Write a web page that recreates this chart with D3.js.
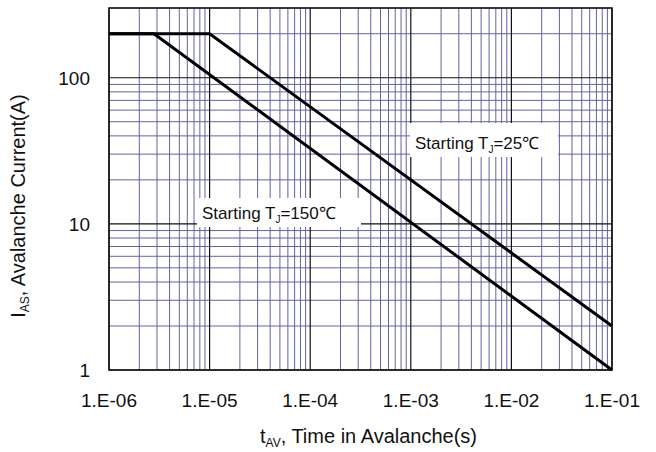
<!DOCTYPE html>
<html>
<head>
<meta charset="utf-8">
<script src="https://cdn.jsdelivr.net/npm/d3@7"></script>
<style>
  body { margin: 0; background: #fff; }
  text { font-family: "Liberation Sans", Arial, sans-serif; fill: #111; }
</style>
</head>
<body>
<div id="chart"></div>
<script>
// 1: DATA
const xTicks = [1e-6, 1e-5, 1e-4, 1e-3, 1e-2, 1e-1];
const xTickLabels = ["1.E-06", "1.E-05", "1.E-04", "1.E-03", "1.E-02", "1.E-01"];
const yTicks = [1, 10, 100];
const yTickLabels = ["1", "10", "100"];

// Starting Tj = 25C
const t25 = [1e-6, 1e-5, 1e-1];
const i25 = [200, 200, 2];
// Starting Tj = 150C
const t150 = [1e-6, 2.8e-6, 1e-1];
const i150 = [200, 200, 1];

// 2: GLOBAL SIZES
const W = 656, H = 452;
const margin = { top: 8, right: 44, bottom: 82, left: 109 };
const width = W - margin.left - margin.right;
const height = H - margin.top - margin.bottom;

const svg = d3.select("#chart").append("svg")
    .attr("width", W)
    .attr("height", H);
const g = svg.append("g")
    .attr("transform", `translate(${margin.left},${margin.top})`);

// 3: SCALES
const xScale = d3.scaleLog().domain([1e-6, 1e-1]).range([0, width]);
const yScale = d3.scaleLog().domain([1, 300]).range([height, 0]);

// 4: GRID
// minor grid lines 2..9 inside each decade
const xMinor = [];
xTicks.slice(0, -1).forEach(d => { for (let k = 2; k <= 9; k++) xMinor.push(d * k); });
const yMinor = [];
yTicks.forEach(d => { for (let k = 2; k <= 9; k++) if (d * k <= 300) yMinor.push(d * k); });

const gridColor = "#6262a2";
g.selectAll(".xminor").data(xMinor).enter().append("line")
    .attr("x1", d => xScale(d)).attr("x2", d => xScale(d))
    .attr("y1", 0).attr("y2", height)
    .attr("stroke", gridColor).attr("stroke-width", 1);
g.selectAll(".yminor").data(yMinor).enter().append("line")
    .attr("y1", d => yScale(d)).attr("y2", d => yScale(d))
    .attr("x1", 0).attr("x2", width)
    .attr("stroke", gridColor).attr("stroke-width", 1);

// decade lines
g.selectAll(".xmajor").data(xTicks).enter().append("line")
    .attr("x1", d => xScale(d)).attr("x2", d => xScale(d))
    .attr("y1", 0).attr("y2", height)
    .attr("stroke", "#111").attr("stroke-width", 1.2);
g.selectAll(".ymajor").data(yTicks).enter().append("line")
    .attr("y1", d => yScale(d)).attr("y2", d => yScale(d))
    .attr("x1", 0).attr("x2", width)
    .attr("stroke", "#111").attr("stroke-width", 1.2);

// frame
g.append("rect")
    .attr("width", width).attr("height", height)
    .attr("fill", "none").attr("stroke", "#111").attr("stroke-width", 1.5);

// 5: LABEL BOXES (white background under the curve labels)
function label(x, y, tj, boxW, boxH) {
    g.append("rect")
        .attr("x", x - 5).attr("y", y - boxH + 8)
        .attr("width", boxW).attr("height", boxH)
        .attr("fill", "#fff");
    const t = g.append("text")
        .attr("x", x).attr("y", y)
        .style("font-size", "17px");
    t.append("tspan").text("Starting T");
    t.append("tspan").attr("dy", 4).style("font-size", "10px").text("J");
    t.append("tspan").attr("dy", -4).text("=" + tj + "\u2103");
}

// 6: CURVES
const line = d3.line()
    .x(d => xScale(d[0]))
    .y(d => yScale(d[1]));

label(306, 141, 25, 148, 34);
label(93, 211, 150, 164, 29);

[[t25, i25], [t150, i150]].forEach(([ts, is]) => {
    g.append("path")
        .datum(ts.map((t, i) => [t, is[i]]))
        .attr("d", line)
        .attr("fill", "none")
        .attr("stroke", "#000")
        .attr("stroke-width", 3);
});

// 7: AXES LABELS
g.selectAll(".xlab").data(xTicks).enter().append("text")
    .attr("x", d => xScale(d))
    .attr("y", height + 37)
    .attr("text-anchor", "middle")
    .style("font-size", "19px")
    .text((d, i) => xTickLabels[i]);

g.selectAll(".ylab").data(yTicks).enter().append("text")
    .attr("x", -19)
    .attr("y", d => yScale(d) + 7)
    .attr("text-anchor", "end")
    .style("font-size", "19px")
    .text((d, i) => yTickLabels[i]);

// x title
const xt = g.append("text")
    .attr("x", width / 2 + 8)
    .attr("y", height + 73)
    .attr("text-anchor", "middle")
    .style("font-size", "20px");
xt.append("tspan").text("t");
xt.append("tspan").attr("dy", 4).style("font-size", "12px").text("AV");
xt.append("tspan").attr("dy", -4).text(", Time in Avalanche(s)");

// y title
const yt = svg.append("text")
    .attr("transform", `translate(25,${margin.top + height / 2 + 17}) rotate(-90)`)
    .attr("text-anchor", "middle")
    .style("font-size", "20px");
yt.append("tspan").text("I");
yt.append("tspan").attr("dy", 4).style("font-size", "12px").text("AS");
yt.append("tspan").attr("dy", -4).text(", Avalanche Current(A)");
</script>
</body>
</html>
